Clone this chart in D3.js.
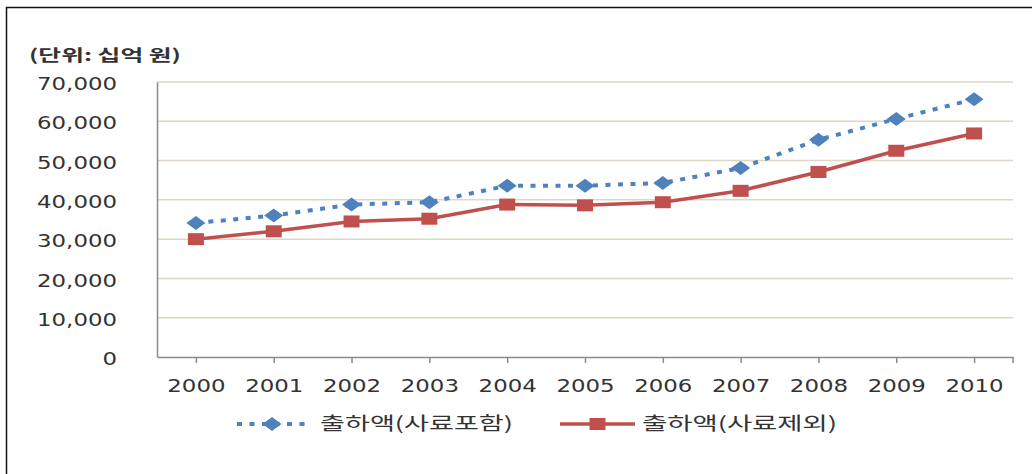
<!DOCTYPE html>
<html>
<head>
<meta charset="utf-8">
<script src="https://cdn.jsdelivr.net/npm/d3@7"></script>
<style>
  body { margin: 0; background: #fff; }
  svg { display: block; }
</style>
</head>
<body>
<div id="chart"></div>
<script>
// data
var years = ["2000", "2001", "2002", "2003", "2004", "2005", "2006", "2007", "2008", "2009", "2010"];
var withFeed = [34100, 36000, 38800, 39400, 43600, 43600, 44300, 48100, 55300, 60600, 65600];
var withoutFeed = [30000, 32000, 34500, 35200, 38800, 38600, 39400, 42300, 47100, 52500, 56900];
var yTicks = [0, 10000, 20000, 30000, 40000, 50000, 60000, 70000];
var seriesNames = ["출하액(사료포함)", "출하액(사료제외)"];
var unitLabel = "(단위: 십억 원)";

var svgWidth = 1032;
var svgHeight = 474;

// plot box
var margin = { top: 82, bottom: 117, left: 157, right: 19 };
var width = svgWidth - (margin.left + margin.right);
var height = svgHeight - (margin.top + margin.bottom);

var stretch = 1.27; // reference text is horizontally stretched
var textColor = "#333";
var blue = "#4f81bd";
var red = "#c0504d";

var svg = d3.select("#chart")
    .append("svg")
    .attr("width", svgWidth)
    .attr("height", svgHeight);

// outer frame
svg.append("rect")
    .attr("x", 6.5)
    .attr("y", 7.5)
    .attr("width", svgWidth + 10)
    .attr("height", svgHeight + 10)
    .attr("fill", "none")
    .attr("stroke", "#111")
    .attr("stroke-width", 1.5);

var chart = svg.append("g")
    .attr("transform", `translate(${margin.left}, ${margin.top})`);

var x = d3.scalePoint()
    .domain(years)
    .range([0, width])
    .padding(0.5);

var y = d3.scaleLinear()
    .domain([0, 70000])
    .range([height, 0]);

// gridlines
chart.append("g")
    .selectAll("line")
    .data(yTicks.filter(d => d > 0))
    .enter()
    .append("line")
    .attr("x1", 0)
    .attr("x2", width)
    .attr("y1", d => y(d))
    .attr("y2", d => y(d))
    .attr("stroke", "#ddd8c4")
    .attr("stroke-width", 1.5);

// y axis
var yAxis = d3.axisLeft(y)
    .tickValues(yTicks)
    .tickSize(0)
    .tickPadding(0)
    .tickFormat(d3.format(","));

var yG = chart.append("g").call(yAxis);
yG.select(".domain").attr("stroke", "#8a8a8a").attr("stroke-width", 1.5);
yG.selectAll("text")
    .attr("x", -40 / stretch)
    .attr("dy", "0.42em")
    .attr("transform", `scale(${stretch},1)`)
    .style("font-family", "'DejaVu Sans', Verdana, sans-serif")
    .style("font-size", "18px")
    .attr("fill", textColor);

// x axis, ticks at category centres plus the closing one at the right edge
var xAxis = d3.axisBottom(x)
    .tickSizeInner(6)
    .tickSizeOuter(0)
    .tickPadding(0);

var xG = chart.append("g")
    .attr("transform", `translate(0,${height})`)
    .call(xAxis);
xG.select(".domain").attr("stroke", "#8a8a8a").attr("stroke-width", 1.5);
xG.selectAll("line").attr("stroke", "#8a8a8a").attr("stroke-width", 1.5);
xG.append("line")
    .attr("x1", width).attr("x2", width)
    .attr("y1", 0).attr("y2", 6)
    .attr("stroke", "#8a8a8a")
    .attr("stroke-width", 1.5);
xG.selectAll(".tick text")
    .attr("y", 29)
    .attr("dy", "0.36em")
    .attr("transform", `scale(${stretch},1)`)
    .style("font-family", "'DejaVu Sans', Verdana, sans-serif")
    .style("font-size", "18px")
    .attr("fill", textColor);

// unit label
svg.append("text")
    .attr("x", 29)
    .attr("y", 55)
    .attr("dy", "0.35em")
    .attr("textLength", 152)
    .attr("lengthAdjust", "spacingAndGlyphs")
    .style("font-family", "'Noto Sans CJK KR', sans-serif")
    .style("font-weight", "bold")
    .style("font-size", "16px")
    .attr("fill", textColor)
    .text(unitLabel);

// lines
var line = d3.line()
    .x((d, i) => x(years[i]))
    .y(d => y(d));

chart.append("path")
    .datum(withoutFeed)
    .attr("d", line)
    .attr("fill", "none")
    .attr("stroke", red)
    .attr("stroke-width", 3.5);

chart.append("path")
    .datum(withFeed)
    .attr("d", line)
    .attr("fill", "none")
    .attr("stroke", blue)
    .attr("stroke-width", 4)
    .attr("stroke-dasharray", "5,7.5");

var diamond = "M-9.5,0L0,-7L9.5,0L0,7Z";
var square = "M-8,-6H8V6H-8Z";

chart.selectAll(".sq")
    .data(withoutFeed)
    .enter()
    .append("path")
    .attr("class", "sq")
    .attr("d", square)
    .attr("transform", (d, i) => `translate(${x(years[i])},${y(d)})`)
    .attr("fill", red);

chart.selectAll(".dia")
    .data(withFeed)
    .enter()
    .append("path")
    .attr("class", "dia")
    .attr("d", diamond)
    .attr("transform", (d, i) => `translate(${x(years[i])},${y(d)})`)
    .attr("fill", blue);

// legend
var legend = svg.append("g").attr("transform", "translate(0,424)");
var legendItems = [
    { x0: 237, x1: 307, text: 320, textLen: 193, color: blue, dash: "5,7.5", w: 4, shape: diamond },
    { x0: 560, x1: 635, text: 642, textLen: 195, color: red, dash: null, w: 3.5, shape: square }
];
legendItems.forEach((item, i) => {
    legend.append("line")
        .attr("x1", item.x0).attr("x2", item.x1)
        .attr("y1", 0).attr("y2", 0)
        .attr("stroke", item.color)
        .attr("stroke-width", item.w)
        .attr("stroke-dasharray", item.dash);
    legend.append("path")
        .attr("d", item.shape)
        .attr("transform", `translate(${(item.x0 + item.x1) / 2},0)`)
        .attr("fill", item.color);
    legend.append("text")
        .attr("x", item.text)
        .attr("y", 0)
        .attr("dy", "0.36em")
        .attr("textLength", item.textLen)
        .attr("lengthAdjust", "spacingAndGlyphs")
        .style("font-family", "'Noto Sans CJK KR', sans-serif")
        .style("font-size", "18px")
        .attr("fill", textColor)
        .text(seriesNames[i]);
});
</script>
</body>
</html>
